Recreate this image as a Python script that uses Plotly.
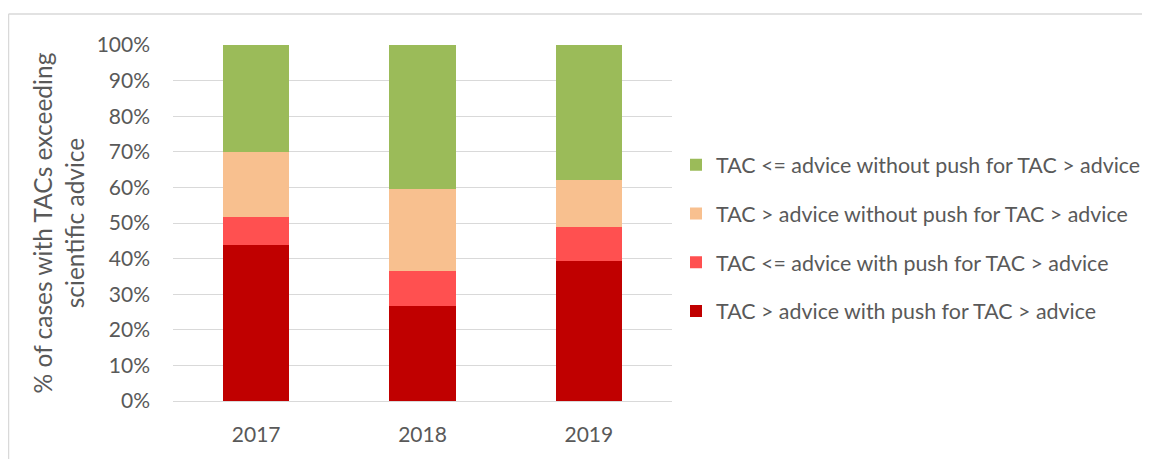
import plotly.graph_objects as go

years = ["2017", "2018", "2019"]
s_dark = [43.8, 26.7, 39.4]      # TAC > advice with push
s_light = [7.9, 9.7, 9.4]        # TAC <= advice with push
s_peach = [18.3, 23.1, 13.4]     # TAC > advice without push
s_green = [30.0, 40.5, 37.8]     # TAC <= advice without push

names = [
    "TAC > advice with push for TAC > advice",
    "TAC <= advice with push for TAC > advice",
    "TAC > advice without push for TAC > advice",
    "TAC <= advice without push for TAC > advice",
]
colors = ["#C00000", "#FF5050", "#F8C08F", "#9BBB59"]
series = [s_dark, s_light, s_peach, s_green]

FONT = "Lato"
TXT = "#595959"

fig = go.Figure()
for i, (nm, vals, col) in enumerate(zip(names, series, colors)):
    fig.add_trace(go.Bar(
        x=years, y=vals, name=nm, legendgroup=f"g{i}",
        legendrank=1000 - i,
        marker=dict(color=col, line=dict(width=0)),
    ))

# page body has an 8px margin, so figure coords = screen coords - 8
OFF = 8
W, H = 1150 - OFF, 459 - OFF
L, R = 173 - OFF, W - (672 - OFF)
T, B = 44.5 - OFF, H - (401 - OFF)
pw, ph = W - L - R, H - T - B

def px_x(x):
    return (x - OFF - L) / pw

def px_y(y):
    return (H - B - (y - OFF)) / ph

fig.update_layout(
    width=W, height=H,
    barmode="stack", bargap=0.6,
    margin=dict(l=L, r=R, t=T, b=B, autoexpand=False),
    paper_bgcolor="white", plot_bgcolor="white",
    font=dict(family=FONT, size=21, color=TXT),
    legend=dict(
        x=px_x(676), xanchor="left",
        y=px_y(238), yanchor="middle",
        traceorder="grouped", tracegroupgap=18,
        font=dict(family=FONT, size=21.4, color=TXT),
        bgcolor="rgba(0,0,0,0)",
    ),
    showlegend=True,
    xaxis=dict(
        showgrid=False, showline=False, ticks="",
        ticklabelstandoff=19,
        tickfont=dict(family=FONT, size=21, color=TXT),
    ),
    yaxis=dict(
        range=[0, 100], tick0=0, dtick=10, ticksuffix="%",
        showgrid=True, gridcolor="#D9D9D9", gridwidth=1.3,
        zeroline=True, zerolinecolor="#D9D9D9", zerolinewidth=1.3,
        showline=False, ticks="",
        ticklabelstandoff=22,
        tickfont=dict(family=FONT, size=21, color=TXT),
        title=dict(text="% of cases with TACs exceeding<br>scientific advice",
                   font=dict(family=FONT, size=24.5, color=TXT), standoff=5),
        automargin=False,
    ),
    shapes=[
        dict(type="line", xref="paper", yref="paper",
             x0=px_x(8.5), x1=px_x(1160),
             y0=px_y(13.5), y1=px_y(13.5),
             line=dict(color="#D9D9D9", width=1.5)),
        dict(type="line", xref="paper", yref="paper",
             x0=px_x(8.5), x1=px_x(8.5),
             y0=px_y(13.5), y1=px_y(470),
             line=dict(color="#D9D9D9", width=1.5)),
    ],
)

fig.write_html("out.html")
